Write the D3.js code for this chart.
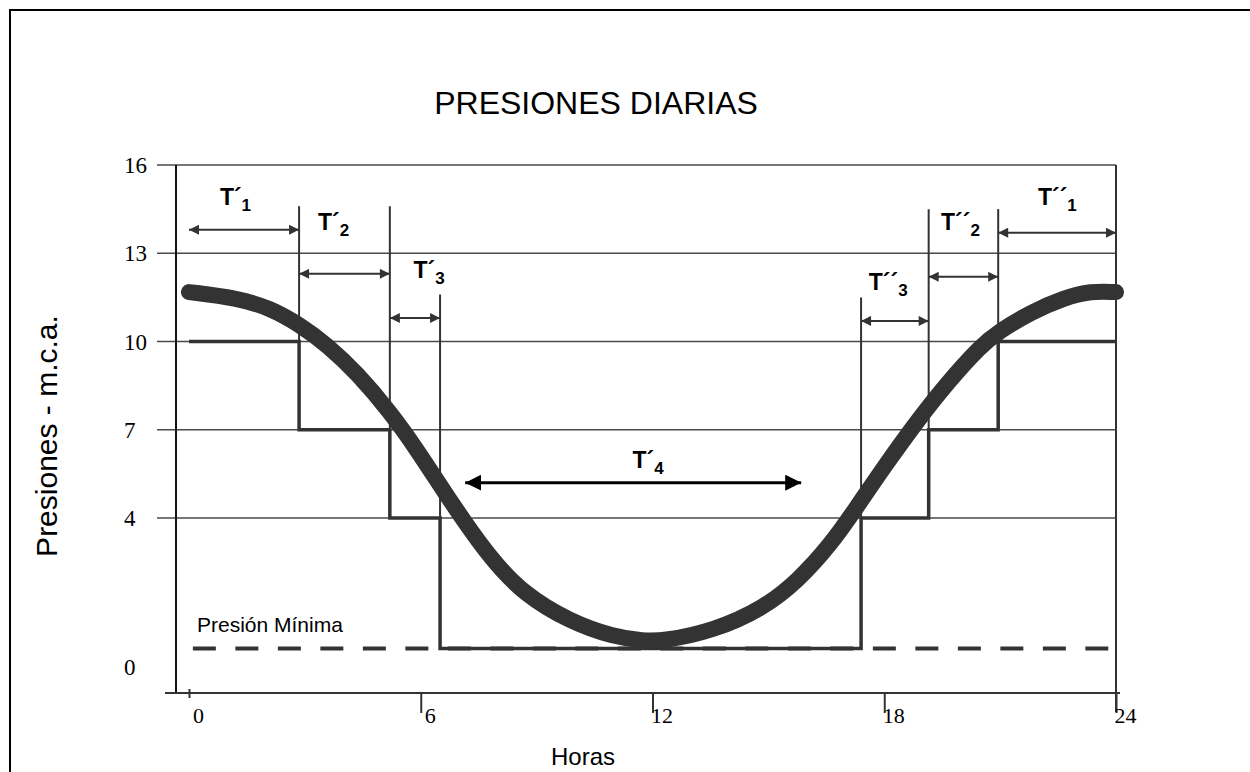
<!DOCTYPE html>
<html>
<head>
<meta charset="utf-8">
<script src="https://cdn.jsdelivr.net/npm/d3@7"></script>
<style>
  body { margin: 0; background: #fff; }
  svg { display: block; }
</style>
</head>
<body>
<div id="chart"></div>
<script>
// axis ticks
var hourTicks = [0, 6, 12, 18, 24];
var pressureTicks = [0, 4, 7, 10, 13, 16];
var gridLevels = [4, 7, 10, 13, 16];

// daily pressure curve (hour, m.c.a.)
var curveHours = [0, 1.24, 2.1, 2.88, 3.58, 4.35, 5.21, 5.91, 6.58, 7.1, 7.8, 8.66, 9.88, 10.99, 11.77,
                  12.29, 13.58, 14.88, 15.76, 16.61, 17.31, 17.99, 18.87, 19.65, 20.5, 20.94, 21.8, 22.65, 23.35, 24];
var curvePressure = [11.68, 11.48, 11.14, 10.56, 9.88, 8.93, 7.6, 6.31, 4.95, 3.95, 2.93, 1.96, 1.21, 0.81, 0.7,
                     0.7, 0.97, 1.58, 2.31, 3.28, 4.41, 5.73, 7.33, 8.62, 9.85, 10.32, 11.0, 11.48, 11.72, 11.68];

// regulated (step) pressure
var stepHours = [0, 2.85, 5.2, 6.5, 17.4, 19.15, 20.95, 24];
var stepLevels = [10, 7, 4, 0.5, 4, 7, 10];
var riserTops = [14.6, 14.6, 11.6, 11.5, 14.5, 14.5];
var minPressure = 0.5;

// time intervals T
var intervalPrimes = ['´', '´', '´', '´', '´´', '´´', '´´'];
var intervalIndex = ['1', '2', '3', '4', '3', '2', '1'];
var intervalStart = [0, 2.85, 5.2, 7.15, 17.4, 19.15, 20.95];
var intervalEnd = [2.85, 5.2, 6.5, 15.85, 19.15, 20.95, 24];
var arrowLevel = [13.8, 12.3, 10.8, 5.2, 10.7, 12.2, 13.7];
var labelHour = [0.8, 3.34, 5.81, 11.48, 17.6, 19.47, 21.98];
var labelLevel = [14.64, 13.79, 12.16, 5.7, 11.75, 13.79, 14.64];

var W = 1250, H = 772;
var svg = d3.select('#chart').append('svg')
  .attr('width', W)
  .attr('height', H);

// page frame
svg.append('rect')
  .attr('x', 10).attr('y', 10)
  .attr('width', 1300).attr('height', 800)
  .attr('fill', 'none')
  .attr('stroke', '#000')
  .attr('stroke-width', 2);

// scales (the scanned drawing has a taller band between 0 and 4)
var x = d3.scaleLinear().domain([0, 24]).range([189, 1116]);
var y = d3.scaleLinear().domain([-0.7, 0, 4, 16]).range([693, 667, 518, 165]);

var defs = svg.append('defs');
function addMarker(id, w, h, color) {
  defs.append('marker')
    .attr('id', id)
    .attr('viewBox', '0 0 10 10')
    .attr('refX', 10).attr('refY', 5)
    .attr('markerUnits', 'userSpaceOnUse')
    .attr('markerWidth', w).attr('markerHeight', h)
    .attr('orient', 'auto-start-reverse')
    .append('path')
    .attr('d', 'M0,0L10,5L0,10Z')
    .attr('fill', color);
}
addMarker('headSmall', 13, 10, '#333');
addMarker('headBig', 16, 16, '#000');

// title
svg.append('text')
  .attr('x', 596).attr('y', 114)
  .attr('text-anchor', 'middle')
  .style('font-family', 'Liberation Sans, Arial, sans-serif')
  .style('font-size', '32px')
  .text('PRESIONES DIARIAS');

// horizontal grid lines
svg.selectAll('.grid')
  .data(gridLevels)
  .enter().append('line')
  .attr('class', 'grid')
  .attr('x1', 157).attr('x2', x(24))
  .attr('y1', function(d) { return y(d); })
  .attr('y2', function(d) { return y(d); })
  .attr('stroke', '#4a4a4a')
  .attr('stroke-width', 1.6);

// left axis line and bottom axis line
svg.append('line')
  .attr('x1', 176).attr('x2', 176)
  .attr('y1', y(16)).attr('y2', y(-0.7))
  .attr('stroke', '#111').attr('stroke-width', 2);
svg.append('line')
  .attr('x1', 165).attr('x2', x(24) + 4)
  .attr('y1', y(-0.7)).attr('y2', y(-0.7))
  .attr('stroke', '#333').attr('stroke-width', 1.8);
// right border line
svg.append('line')
  .attr('x1', x(24)).attr('x2', x(24))
  .attr('y1', y(16)).attr('y2', y(-0.7) + 19)
  .attr('stroke', '#333').attr('stroke-width', 2);

// x axis ticks and labels
var xAxis = svg.append('g')
  .attr('transform', 'translate(0,' + y(-0.7) + ')')
  .call(d3.axisBottom(x).tickValues(hourTicks).tickSize(20).tickFormat(d3.format('d')));
xAxis.select('.domain').remove();
xAxis.selectAll('.tick line')
  .attr('stroke', '#333')
  .attr('stroke-width', 2)
  .attr('y1', function(d) { return d === 0 ? -4 : 0; })
  .attr('y2', function(d) { return d === 0 ? 5 : 20; });
xAxis.selectAll('.tick text')
  .attr('y', 22)
  .attr('dy', '0.35em')
  .attr('dx', 9)
  .attr('fill', '#000')
  .style('font-family', 'Liberation Serif, Times New Roman, serif')
  .style('font-size', '22px');

// y tick labels
svg.selectAll('.ylabel')
  .data(pressureTicks)
  .enter().append('text')
  .attr('class', 'ylabel')
  .attr('x', 124)
  .attr('y', function(d) { return y(d); })
  .attr('dy', '0.35em')
  .style('font-family', 'Liberation Serif, Times New Roman, serif')
  .style('font-size', '23px')
  .text(function(d) { return d; });

// axis titles
svg.append('text')
  .attr('transform', 'translate(57,436) rotate(-90)')
  .attr('text-anchor', 'middle')
  .style('font-family', 'Liberation Sans, Arial, sans-serif')
  .style('font-size', '30px')
  .text('Presiones - m.c.a.');

svg.append('text')
  .attr('x', 583).attr('y', 765)
  .attr('text-anchor', 'middle')
  .style('font-family', 'Liberation Sans, Arial, sans-serif')
  .style('font-size', '24px')
  .text('Horas');

// minimum pressure dashed line
svg.append('line')
  .attr('x1', x(0.1)).attr('x2', x(23.8))
  .attr('y1', y(minPressure)).attr('y2', y(minPressure))
  .attr('stroke', '#333')
  .attr('stroke-width', 4)
  .attr('stroke-dasharray', '23,19.5');

svg.append('text')
  .attr('x', 197).attr('y', 632)
  .style('font-family', 'Liberation Sans, Arial, sans-serif')
  .style('font-size', '21px')
  .text('Presión Mínima');

// risers (vertical lines at interval boundaries)
svg.selectAll('.riser')
  .data(riserTops)
  .enter().append('line')
  .attr('class', 'riser')
  .attr('x1', function(d, i) { return x(stepHours[i + 1]); })
  .attr('x2', function(d, i) { return x(stepHours[i + 1]); })
  .attr('y1', function(d) { return y(d); })
  .attr('y2', function(d, i) { return y(Math.min(stepLevels[i], stepLevels[i + 1])); })
  .attr('stroke', '#333')
  .attr('stroke-width', 2);

// step line of regulated pressure
var stepPts = [];
stepLevels.forEach(function(v, i) {
  stepPts.push([stepHours[i], v]);
  stepPts.push([stepHours[i + 1], v]);
});
svg.append('path')
  .datum(stepPts)
  .attr('fill', 'none')
  .attr('stroke', '#333')
  .attr('stroke-width', 3.5)
  .attr('d', d3.line()
    .x(function(d) { return x(d[0]); })
    .y(function(d) { return y(d[1]); }));

// thick daily pressure curve
var curvePts = curveHours.map(function(h, i) { return [h, curvePressure[i]]; });
svg.append('path')
  .datum(curvePts)
  .attr('fill', 'none')
  .attr('stroke', '#333')
  .attr('stroke-width', 16)
  .attr('stroke-linecap', 'round')
  .attr('d', d3.line()
    .x(function(d) { return x(d[0]); })
    .y(function(d) { return y(d[1]); })
    .curve(d3.curveBasis));

// interval arrows
svg.selectAll('.arrow')
  .data(intervalStart)
  .enter().append('line')
  .attr('class', 'arrow')
  .attr('x1', function(d) { return x(d); })
  .attr('x2', function(d, i) { return x(intervalEnd[i]); })
  .attr('y1', function(d, i) { return y(arrowLevel[i]); })
  .attr('y2', function(d, i) { return y(arrowLevel[i]); })
  .attr('stroke', function(d, i) { return i === 3 ? '#000' : '#333'; })
  .attr('stroke-width', function(d, i) { return i === 3 ? 3 : 2; })
  .attr('marker-start', function(d, i) { return i === 3 ? 'url(#headBig)' : 'url(#headSmall)'; })
  .attr('marker-end', function(d, i) { return i === 3 ? 'url(#headBig)' : 'url(#headSmall)'; });

// interval labels T´n / T´´n
var labels = svg.selectAll('.tlabel')
  .data(intervalIndex)
  .enter().append('text')
  .attr('class', 'tlabel')
  .attr('x', function(d, i) { return x(labelHour[i]); })
  .attr('y', function(d, i) { return y(labelLevel[i]); })
  .style('font-family', 'Liberation Sans, Arial, sans-serif')
  .style('font-weight', 'bold')
  .style('font-size', '23px');
labels.append('tspan')
  .text(function(d, i) { return 'T' + intervalPrimes[i]; });
labels.append('tspan')
  .attr('dy', 6)
  .style('font-size', '17px')
  .text(function(d) { return d; });
</script>
</body>
</html>
